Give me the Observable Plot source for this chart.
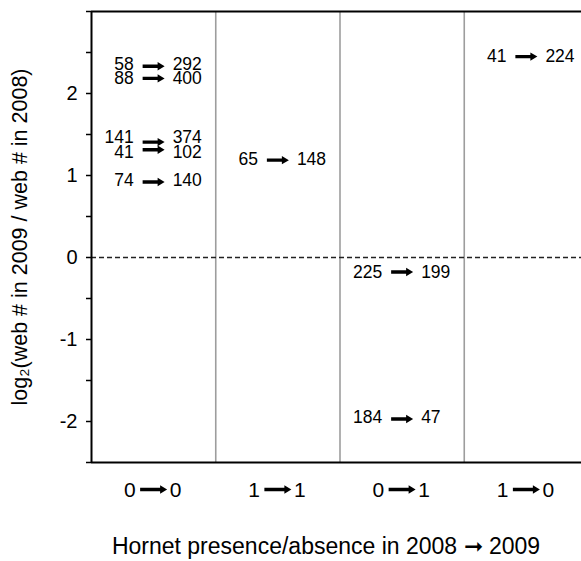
<!DOCTYPE html>
<html><head><meta charset="utf-8">
<script src="https://cdn.jsdelivr.net/npm/d3@7"></script>
<script src="https://cdn.jsdelivr.net/npm/@observablehq/plot@0.6"></script>
<style>
body{margin:0;background:#fff;overflow:hidden}
svg text{font-family:"Liberation Sans",Arial,sans-serif}
</style></head><body><div id="chart"></div>
<script>
// Categories (hornet presence/absence 2008 -> 2009)
const categoryFrom = ["0", "1", "0", "1"];
const categoryTo = ["0", "1", "1", "0"];
// Web counts per site, with the category index of each site
const siteCategory = [0, 0, 0, 0, 0, 1, 2, 2, 3];
const webs2008 = [58, 88, 141, 41, 74, 65, 225, 184, 41];
const webs2009 = [292, 400, 374, 102, 140, 148, 199, 47, 224];
// vertical position (log2 units) of each site's count labels
const labelLog2 = [2.36, 2.18, 1.46, 1.28, 0.94, 1.2, -0.18, -1.95, 2.45];
// Y ticks
const yTicks = [-2.5, -2, -1.5, -1, -0.5, 0, 0.5, 1, 1.5, 2, 2.5, 3];
const yTickLabels = ["", "-2", "", "-1", "", "0", "", "1", "", "2", "", ""];
const yDomain = [-2.5, 3];
const yTitle = "log₂(web # in 2009 / web # in 2008)";
const xTitle = "Hornet presence/absence in 2008 ➞ 2009";

const rows = siteCategory.map((c, i) => ({
  x: c + 0.5,
  y: Math.log2(webs2009[i] / webs2008[i]),
  ly: labelLog2[i],
  before: String(webs2008[i]),
  after: String(webs2009[i])
}));
const cats = categoryFrom.map((f, i) => ({x: i + 0.5, from: f, to: categoryTo[i]}));
const bounds = d3.range(1, categoryFrom.length);

// filled thick arrow shape (points along -y before rotation)
const thickArrow = {
  draw(ctx, l) {
    const w = 1.7, hw = 4.2, hl = 7;
    ctx.moveTo(-w, 0);
    ctx.lineTo(-w, -l + hl);
    ctx.lineTo(-hw, -l + hl);
    ctx.lineTo(0, -l);
    ctx.lineTo(hw, -l + hl);
    ctx.lineTo(w, -l + hl);
    ctx.lineTo(w, 0);
    ctx.closePath();
  }
};

const chart = Plot.plot({
  width: 581,
  height: 561,
  marginLeft: 91,
  marginRight: -7,
  marginTop: 11,
  marginBottom: 99,
  style: {fontFamily: "Liberation Sans, Arial, sans-serif", fontSize: "18px", background: "white", color: "black"},
  x: {domain: [0, categoryFrom.length], axis: null},
  y: {domain: yDomain},
  marks: [
    Plot.ruleX(bounds, {stroke: "#9d9d9d", strokeWidth: 1.6}),
    Plot.ruleY([0], {stroke: "#222", strokeWidth: 1.6, strokeDasharray: "5,3"}),
    Plot.ruleX([0], {stroke: "black", strokeWidth: 2}),
    Plot.ruleY(yDomain, {stroke: "black", strokeWidth: 2}),
    Plot.axisY({
      ticks: yTicks,
      tickFormat: d => yTickLabels[yTicks.indexOf(d)],
      tickSize: 5, tickPadding: 9, strokeWidth: 1.5,
      fontSize: 20,
      label: null
    }),
    Plot.axisY({
      ticks: [], tickSize: 0,
      fontSize: 21.5,
      label: yTitle,
      labelAnchor: "center", labelArrow: "none", labelOffset: 80
    }),
    Plot.text([xTitle], {frameAnchor: "bottom", text: d => d, dy: 84, dx: -14, lineAnchor: "middle", fontSize: 23}),
    // category labels below the axis
    Plot.text(cats, {x: "x", frameAnchor: "bottom", dy: 28, lineAnchor: "middle", text: "from", textAnchor: "end", dx: -18, fontSize: 21}),
    Plot.vector(cats, {x: "x", frameAnchor: "bottom", dy: 27, length: 27, rotate: 90, anchor: "middle", shape: thickArrow, fill: "black", stroke: "none"}),
    Plot.text(cats, {x: "x", frameAnchor: "bottom", dy: 28, lineAnchor: "middle", text: "to", textAnchor: "start", dx: 16, fontSize: 21}),
    // site labels
    Plot.text(rows, {x: "x", y: "ly", text: "before", textAnchor: "end", dx: -20, fontSize: 17.5}),
    Plot.vector(rows, {x: "x", y: "y", length: 22, rotate: 90, anchor: "middle", shape: thickArrow, fill: "black", stroke: "none"}),
    Plot.text(rows, {x: "x", y: "ly", text: "after", textAnchor: "start", dx: 19, fontSize: 17.5})
  ]
});
document.getElementById("chart").appendChild(chart);
</script></body></html>
